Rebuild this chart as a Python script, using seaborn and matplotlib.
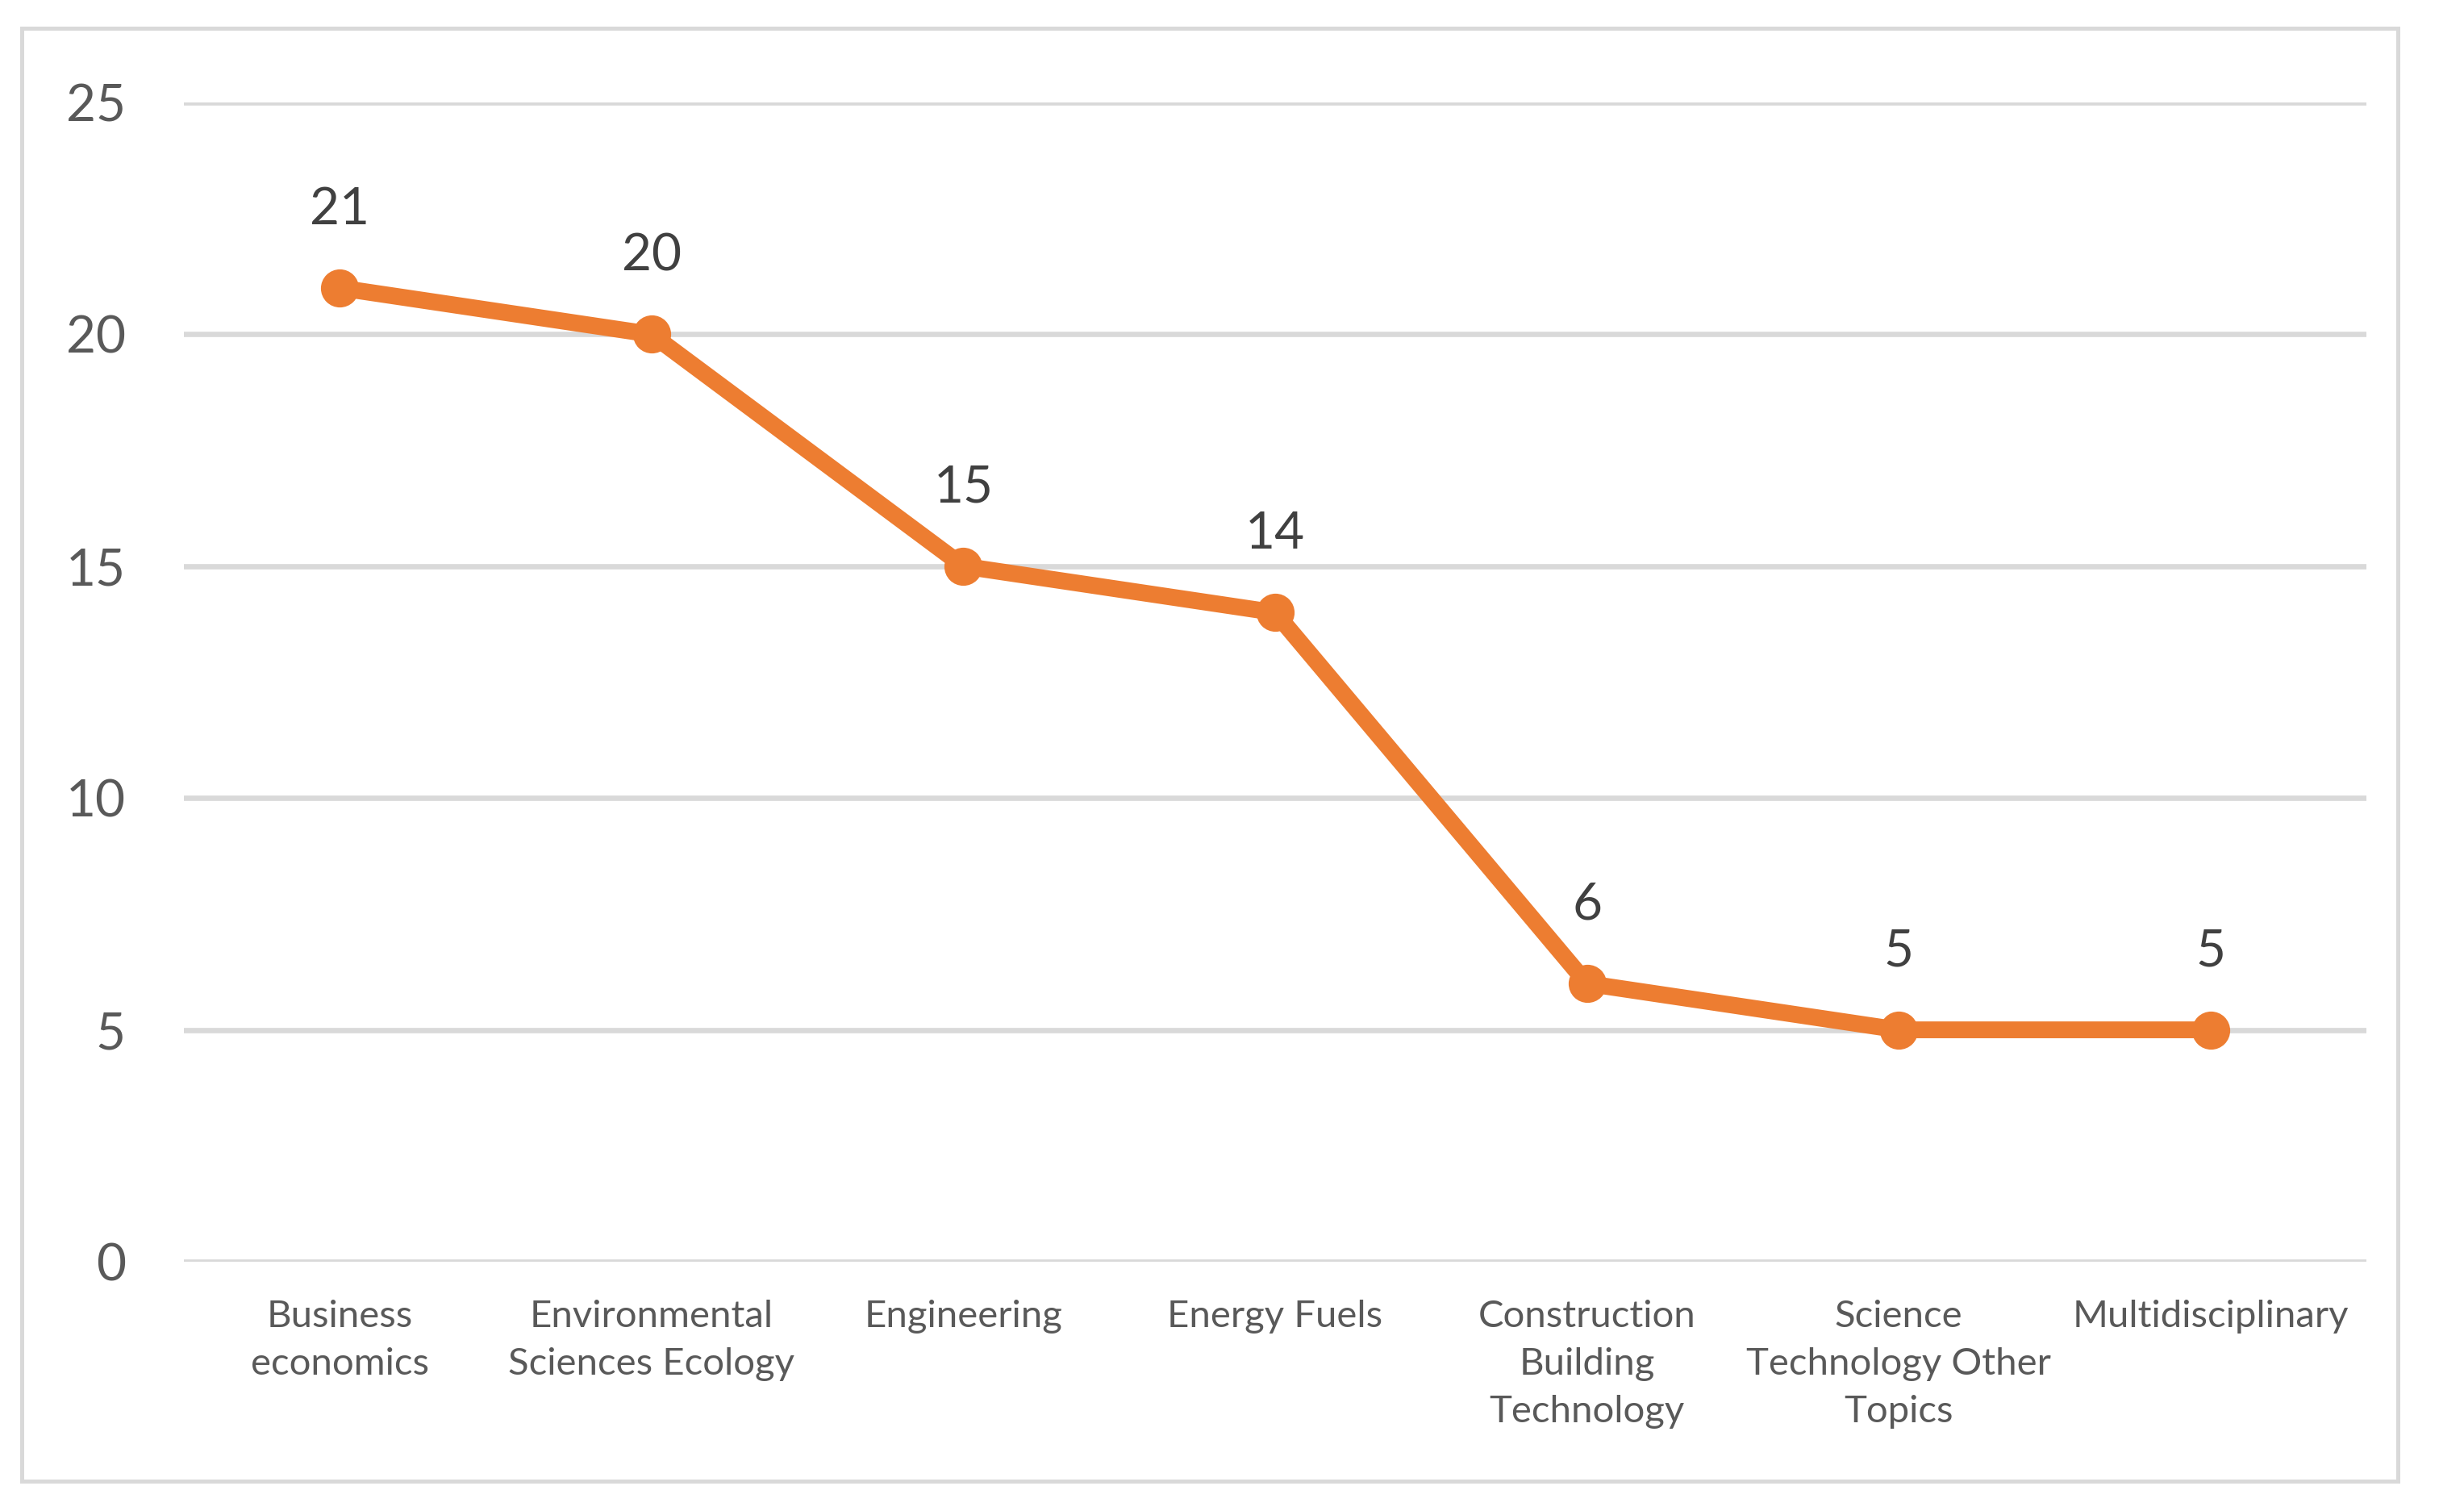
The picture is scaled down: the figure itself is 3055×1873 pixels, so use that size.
import matplotlib.pyplot as plt
import seaborn as sns
from matplotlib.patches import Rectangle

categories = ['Business\neconomics', 'Environmental\nSciences Ecology', 'Engineering',
              'Energy Fuels', 'Construction\nBuilding\nTechnology',
              'Science\nTechnology Other\nTopics', 'Multidisciplinary']
values = [21, 20, 15, 14, 6, 5, 5]
y_ticks = [0, 5, 10, 15, 20, 25]

sns.set_theme(style='white')
plt.rcParams['font.family'] = ['Lato', 'DejaVu Sans']

fig = plt.figure(figsize=(15.275, 9.365), dpi=200)
ax = fig.add_axes([0.0746, 0.165, 0.8858, 0.7672])

orange = '#ED7D31'
sns.lineplot(x=categories, y=values, ax=ax, color=orange, linewidth=7.5,
             marker='o', markersize=17, markeredgewidth=0, sort=False)

ax.set_xlim(-0.5, len(categories) - 0.5)
ax.set_ylim(0, 25)
ax.set_yticks(y_ticks)
ax.grid(axis='y', color='#D9D9D9', linewidth=2.4)
ax.set_axisbelow(True)
for s in ax.spines.values():
    s.set_visible(False)

ax.tick_params(axis='y', length=0, pad=26, labelsize=23, labelcolor='#595959')
ax.tick_params(axis='x', length=0, pad=17, labelsize=17, labelcolor='#595959')
for lab in ax.get_xticklabels():
    lab.set_linespacing(1.5)
ax.set_xlabel('')
ax.set_ylabel('')

# data labels
for i, v in enumerate(values):
    ax.annotate(str(v), (i, v), xytext=(0, 35), textcoords='offset points',
                ha='center', va='center', fontsize=23, color='#404040')

# outer chart border
fig.patches.append(Rectangle((27 / 3055, 1 - 1836 / 1873), (2973 - 27) / 3055,
                             (1836 - 35) / 1873, transform=fig.transFigure,
                             fill=False, edgecolor='#D9D9D9', linewidth=1.8))

fig.savefig('out.png', dpi=200, facecolor='white')
